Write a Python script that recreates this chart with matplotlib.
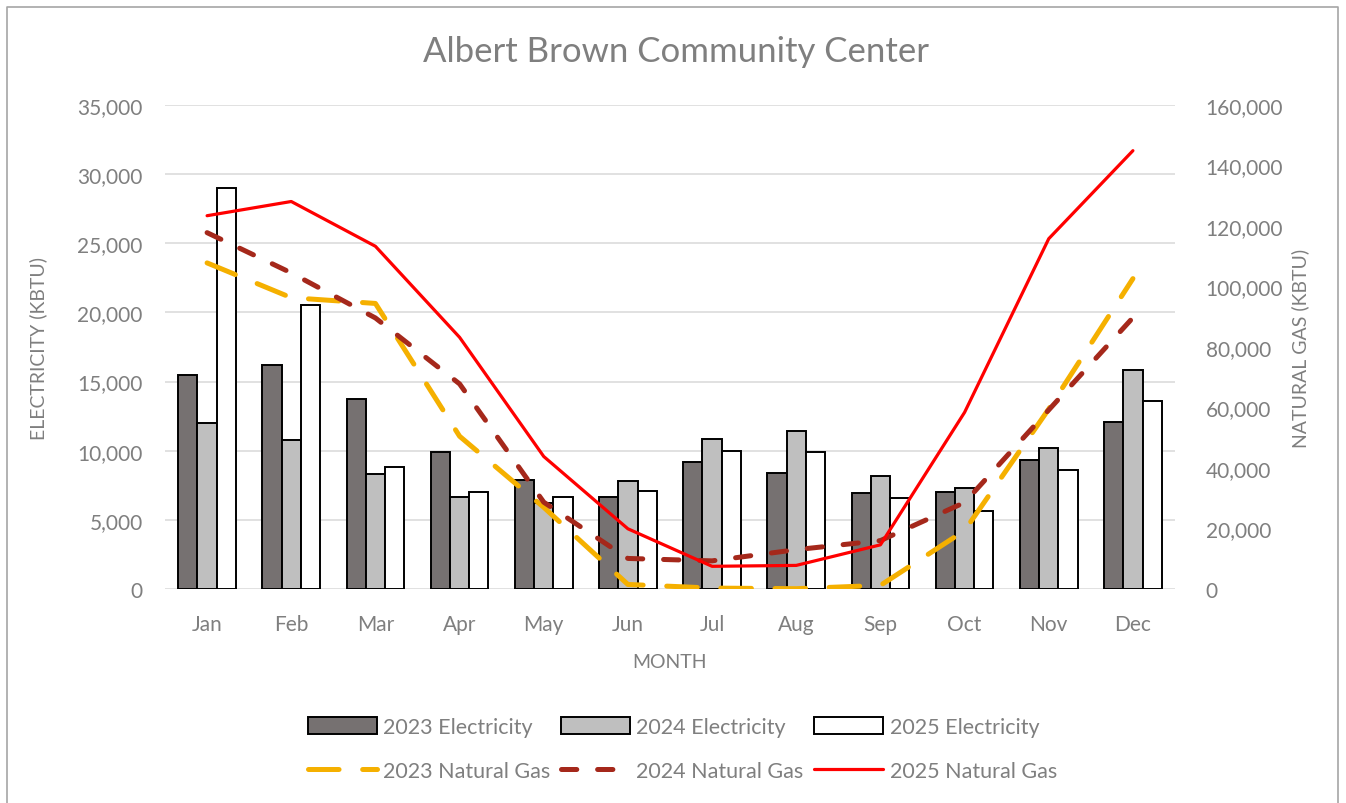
import numpy as np
import matplotlib.pyplot as plt
from matplotlib.lines import Line2D
from matplotlib.ticker import FuncFormatter

plt.rcParams['font.family'] = ['Lato', 'DejaVu Sans']
plt.rcParams['lines.scale_dashes'] = False

months = ['Jan', 'Feb', 'Mar', 'Apr', 'May', 'Jun', 'Jul', 'Aug', 'Sep', 'Oct', 'Nov', 'Dec']

# electricity (kBTU), left axis
elec_2023 = [15450, 16220, 13720, 9930, 7880, 6630, 9160, 8410, 6970, 7010, 9330, 12050]
elec_2024 = [12000, 10770, 8290, 6680, 6220, 7830, 10870, 11420, 8170, 7280, 10220, 15810]
elec_2025 = [28970, 20560, 8800, 6990, 6680, 7090, 10000, 9880, 6560, 5660, 8630, 13570]

# natural gas (kBTU), right axis
gas_2023 = [107800, 96300, 94400, 50500, 27000, 1500, 300, 100, 1200, 19300, 59500, 102600]
gas_2024 = [117800, 104500, 89600, 67800, 28700, 10100, 9300, 13000, 16000, 28600, 59200, 89700]
gas_2025 = [123400, 128100, 113300, 83200, 43800, 19900, 7500, 7800, 14600, 58400, 115800, 144900]

txt = '#7F7F7F'
grid = '#D9D9D9'

fig = plt.figure(figsize=(13.46, 8.04), dpi=100)
ax = fig.add_axes([165 / 1346, 1 - 590 / 804, 1010 / 1346, 484 / 804])
ax2 = ax.twinx()

x = np.arange(len(months))
w = 0.229
b1 = ax.bar(x - w, elec_2023, w, color='#767171', edgecolor='black', linewidth=1.4, zorder=2)
b2 = ax.bar(x, elec_2024, w, color='#BFBFBF', edgecolor='black', linewidth=1.4, zorder=2)
b3 = ax.bar(x + w, elec_2025, w, color='white', edgecolor='black', linewidth=1.4, zorder=2)

l1, = ax2.plot(x, gas_2023, color='#F5B000', lw=3.6, dashes=(22, 17), dash_capstyle='round')
l2, = ax2.plot(x, gas_2024, color='#A5281B', lw=3.6, dashes=(11, 15), dash_capstyle='round')
l3, = ax2.plot(x, gas_2025, color='#FF0000', lw=2.3, solid_capstyle='round')

ax.set_xlim(-0.5, 11.5)
ax.set_ylim(0, 35000)
ax.set_yticks(np.arange(0, 35001, 5000))
ax2.set_ylim(0, 160000)
ax2.set_yticks(np.arange(0, 160001, 20000))
fmt = FuncFormatter(lambda v, p: f'{v:,.0f}')
ax.yaxis.set_major_formatter(fmt)
ax2.yaxis.set_major_formatter(fmt)
ax.set_xticks(x)
ax.set_xticklabels(months)

ax.grid(axis='y', color=grid, lw=1.1, zorder=0)
ax.set_axisbelow(True)
for a in (ax, ax2):
    for s in a.spines.values():
        s.set_visible(False)
    a.tick_params(length=0, labelsize=15, labelcolor=txt)
ax.tick_params(axis='y', pad=16)
ax2.tick_params(axis='y', pad=22)
ax.tick_params(axis='x', pad=18)

ax.set_ylabel('ELECTRICITY (KBTU)', fontsize=14, color=txt, labelpad=22)
ax2.set_ylabel('NATURAL GAS (KBTU)', fontsize=14, color=txt, labelpad=6)
ax.set_xlabel('MONTH', fontsize=14, color=txt, labelpad=14)

fig.text(0.502, 1 - 52 / 804, 'Albert Brown Community Center', fontsize=25,
         color=txt, ha='center', va='center')

handles = [b1, l1, b2, l2, b3, l3]
labels = ['2023 Electricity', '2023 Natural Gas', '2024 Electricity',
          '2024 Natural Gas', '2025 Electricity', '2025 Natural Gas']
leg = fig.legend(handles, labels, ncol=3, loc='center', bbox_to_anchor=(0.507, 1 - 750 / 804),
                 frameon=False, fontsize=15.5, labelcolor=txt, handlelength=3.2,
                 handleheight=0.8, handletextpad=0.3, columnspacing=0.5, labelspacing=1.1)

# chart border
fig.add_artist(Line2D([7 / 1346, 7 / 1346, 1338 / 1346, 1338 / 1346],
                      [0, 1 - 8 / 804, 1 - 8 / 804, 0], transform=fig.transFigure,
                      color='#A6A6A6', lw=1.2))

fig.savefig('out.png', dpi=100)
